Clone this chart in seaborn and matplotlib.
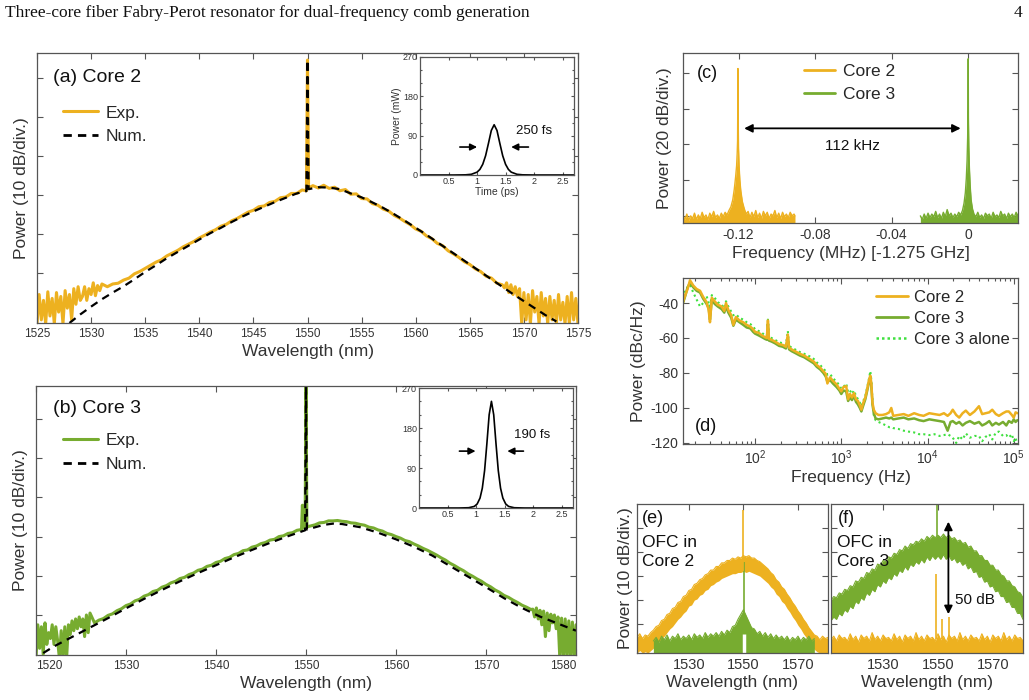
import numpy as np
import matplotlib
matplotlib.use('Agg')
import matplotlib.pyplot as plt
from matplotlib.lines import Line2D
from matplotlib.ticker import LogLocator, LogFormatterMathtext, NullFormatter, MultipleLocator
import seaborn as sns

sns.set_theme(style='ticks')
plt.rcParams['font.family'] = ['Liberation Sans', 'DejaVu Sans']
plt.rcParams['mathtext.fontset'] = 'custom'
plt.rcParams['mathtext.rm'] = 'Liberation Sans'
plt.rcParams['mathtext.it'] = 'Liberation Sans:italic'
plt.rcParams['axes.unicode_minus'] = False

ORANGE = '#EDB120'
GREEN = '#77AC30'
LIME = '#3FE03F'
INK = '#333333'
SPINE = '#555555'

# ---------------- texts ----------------
header_text = 'Three-core fiber Fabry-Perot resonator for dual-frequency comb generation'
page_no = '4'

def grid(a, b, step):
    return np.round(np.arange(a, b + step / 2, step), 3)

# ---------------- (a) Core 2 spectrum ----------------
a_num_wl = list(range(1528, 1550)) + [1549.9, 1550.0, 1550.1] + list(range(1551, 1574))
a_num_db = [-62.8, -60.6, -58.6, -56.7, -55.0, -53.4, -51.6, -49.7, -48.0, -46.2, -44.6,
            -43.0, -41.4, -39.8, -38.4, -36.9, -35.5, -34.2, -33.0, -31.8, -30.7, -29.6,
            -29.0, 4.6, -28.5,
            -28.0, -28.1, -28.5, -29.6, -30.6, -31.9, -33.3, -34.9, -36.6, -38.4, -40.2,
            -42.1, -44.0, -45.9, -47.8, -49.7, -51.6, -53.5, -55.4, -57.2, -59.0, -60.8, -62.4]

a_exp_wl = np.concatenate([grid(1525, 1529, 0.2), grid(1529.2, 1531, 0.2), grid(1531.5, 1549.5, 0.5),
                           [1549.9, 1550.0, 1550.1], grid(1550.5, 1568, 0.5), grid(1568.2, 1575, 0.2)])
a_exp_db = ([-63, -55.5, -62, -57, -63, -54.8, -61, -56.5, -63, -55, -60, -56, -63, -54.5, -59,
             -55.5, -62, -54, -58, -53.5, -57]
            + [-56.0, -53.5, -57.0, -54.0, -55.5, -52.5, -55.8, -53.2, -54.5, -52.8]
            + [-53.5, -52.8, -52.6, -51.8, -51.3, -50.2, -49.6, -48.8, -48.0, -47.2,
               -46.6, -45.6, -44.9, -44.2, -43.3, -42.6, -41.9, -41.0, -40.3, -39.5,
               -38.9, -38.0, -37.5, -36.6, -36.0, -35.2, -34.4, -33.9, -33.0, -32.8,
               -31.9, -31.6, -30.7, -30.5, -29.6, -29.6, -28.7]
            + [-28.9, 4.6, -28.2]
            + [-27.6, -28.2, -27.5, -28.3, -28.0, -28.9, -28.6, -29.8, -29.7, -30.9,
               -31.0, -32.2, -32.6, -33.6, -34.1, -35.2, -35.9, -36.8, -37.6, -38.7,
               -39.3, -40.5, -41.2, -42.4, -43.0, -44.3, -45.1, -46.0, -47.1, -47.8,
               -48.9, -49.6, -50.8, -51.3, -52.6, -53.0]
            + [-53.8, -52.5, -55.0, -53.0, -55.5, -53.5, -56.0, -54.0, -63,
               -55.0, -62, -55.5, -63, -54.5, -60, -56, -63, -55, -61, -56.5, -63, -56, -62,
               -57, -63, -55.5, -62, -57.5, -63, -56, -63, -55, -62, -56.5, -63])

# inset (a): pulse
a_t = [0.0, 0.6, 0.8, 0.9, 1.0, 1.05, 1.1, 1.15, 1.2, 1.25, 1.3, 1.35, 1.4, 1.45, 1.5, 1.55,
       1.6, 1.7, 1.8, 2.0, 2.7]
a_p = [0, 0, 0.4, 1.6, 6.5, 12.8, 24.5, 44.1, 72.3, 101.8, 115, 101.8, 72.3, 44.1, 24.5, 12.8,
       6.5, 1.6, 0.4, 0, 0]

# ---------------- (b) Core 3 spectrum ----------------
b_num_wl = [1520.8, 1522, 1524, 1526, 1528, 1530, 1532, 1534, 1536, 1538, 1540, 1542, 1544, 1546, 1548,
            1549.9, 1550.0, 1550.1,
            1552, 1553, 1554, 1556, 1558, 1560, 1562, 1564, 1566, 1568, 1570, 1572, 1574, 1576, 1578, 1580]
b_num_db = [-59.7, -58.0, -55.6, -53.2, -50.8, -48.3, -45.9, -43.6, -41.4, -39.3, -37.3, -35.3, -33.4, -31.6, -29.9,
            -28.4, 10.0, -28.2,
            -27.0, -26.7, -26.8, -27.6, -29.0, -30.7, -32.6, -34.8, -37.5, -40.2, -42.9, -45.7, -48.2, -50.4, -52.2, -54.0]

b_exp_wl = np.concatenate([grid(1520, 1526, 0.2), grid(1526.5, 1549.5, 0.5),
                           [1549.6, 1549.7, 1549.8, 1549.9, 1550.0, 1550.1, 1550.3],
                           grid(1550.5, 1575, 0.5), grid(1575.2, 1580, 0.2)])
b_exp_db = ([-61, -52.5, -58.5, -53, -60, -52, -57.5, -54.5, -56, -52.5, -57.5, -53, -56.5, -61, -54,
             -61, -53, -61, -52.5, -55, -51.5, -54, -51, -53.5, -50.5, -53, -51, -55.5, -50, -54.5, -49.5]
            + [-52.0, -51.3, -50.9, -50.1, -49.7, -48.9, -48.4, -47.6, -47.2, -46.4,
               -46.0, -45.2, -44.8, -44.0, -43.7, -42.9, -42.5, -41.8, -41.4, -40.7,
               -40.4, -39.7, -39.3, -38.6, -38.3, -37.6, -37.3, -36.6, -36.3, -35.6,
               -35.3, -34.6, -34.3, -33.6, -33.4, -32.7, -32.4, -31.8, -31.5, -30.9,
               -30.7, -30.0, -29.8, -29.2, -29.0, -28.4, -28.2]
            + [-22, -27.5, -22.5, -28, 10, -27.6, -27.4]
            + [-27.3, -27.0, -26.5, -26.4, -26.0, -26.0, -25.9, -26.1, -26.2, -26.5,
               -26.6, -26.9, -27.1, -27.6, -27.8, -28.3, -28.6, -29.2, -29.5, -30.0,
               -30.4, -31.0, -31.3, -31.9, -32.4, -33.0, -33.5, -34.1, -34.7, -35.4,
               -36.0, -36.8, -37.4, -38.1, -38.7, -39.5, -40.1, -40.8, -41.4, -42.2,
               -42.8, -43.6, -44.2, -45.0, -45.5, -46.2, -46.8, -47.5, -48.0, -48.6]
            + [-48.5, -50.5, -48.2, -51.0, -48.8, -52.5, -49.0, -55.5, -49.5, -54.0, -49.8, -52.0,
               -50.0, -53.5, -50.5, -61, -50.8, -61, -51.0, -61, -51.5, -61, -51.8, -61, -52.5])

# inset (b): pulse
b_t = [0.0, 0.7, 0.87, 0.97, 1.02, 1.07, 1.11, 1.15, 1.19, 1.23, 1.27, 1.31, 1.35, 1.39, 1.43,
       1.47, 1.52, 1.57, 1.67, 1.85, 2.7]
b_p = [0, 0, 0.6, 3.6, 9.1, 22.4, 44.6, 84.2, 144.7, 209.8, 240, 209.8, 144.7, 84.2, 44.6,
       22.4, 9.1, 3.6, 0.6, 0, 0]

# ---------------- (c) RF beat notes ----------------
c_core2_f = [-0.1490, -0.1480, -0.1470, -0.1460, -0.1450, -0.1440, -0.1430, -0.1420, -0.1410, -0.1400,
             -0.1390, -0.1380, -0.1370, -0.1360, -0.1350, -0.1340, -0.1330, -0.1320, -0.1310, -0.1300,
             -0.1290, -0.1280, -0.1270, -0.1260, -0.1250, -0.1240, -0.1230, -0.1222, -0.1215, -0.1210,
             -0.1207, -0.1205, -0.1204, -0.1203, -0.1202, -0.1200, -0.1197, -0.1193, -0.1188, -0.1180,
             -0.1170, -0.1160, -0.1150, -0.1140, -0.1130, -0.1120, -0.1110, -0.1100, -0.1090, -0.1080,
             -0.1070, -0.1060, -0.1050, -0.1040, -0.1030, -0.1020, -0.1010, -0.1000, -0.0990, -0.0980,
             -0.0970, -0.0960, -0.0950, -0.0940, -0.0930, -0.0920, -0.0910, -0.0905]
c_core2_db = [-80, -82, -79, -82.5, -80, -81.5, -78.5, -82, -79.5, -81.5,
              -78, -81, -79.5, -82, -78.5, -80.5, -77.5, -81, -79.5, -81.5,
              -78.5, -80.5, -78, -79.5, -77, -75, -71, -65, -58, -52,
              -45, -38, -20, 2.5, -22, -42, -52, -60, -66, -72,
              -76, -79, -77.5, -81, -78, -80.5, -77, -81, -78.5, -81.5,
              -77.5, -80, -78, -81.5, -79, -80, -77, -81, -78.5, -81.5,
              -78, -80.5, -79, -81, -78, -80, -79, -80]
c_core3_f = [-0.0250, -0.0240, -0.0230, -0.0220, -0.0210, -0.0200, -0.0190, -0.0180, -0.0170, -0.0160,
             -0.0150, -0.0140, -0.0130, -0.0120, -0.0110, -0.0100, -0.0090, -0.0080, -0.0070, -0.0060,
             -0.0050, -0.0040, -0.0030, -0.0022, -0.0015, -0.0010, -0.0006, -0.0003, -0.0001, 0.0000,
             0.0001, 0.0003, 0.0006, 0.0010, 0.0015, 0.0022, 0.0030, 0.0040, 0.0050, 0.0060,
             0.0070, 0.0080, 0.0090, 0.0100, 0.0110, 0.0120, 0.0130, 0.0140, 0.0150, 0.0160,
             0.0170, 0.0180, 0.0190, 0.0200, 0.0210, 0.0220, 0.0230, 0.0240, 0.0250, 0.0260]
c_core3_db = [-80, -82, -79, -81.5, -78.5, -81, -79, -80.5, -77.5, -81,
              -79, -81.5, -78, -80.5, -76.5, -80, -78.5, -81, -79, -80.5,
              -78, -79.5, -77, -73, -67, -59, -49, -36, -20, 8,
              -25, -41, -53, -63, -71, -76, -79, -80.5, -78, -81,
              -79.5, -81.5, -78.5, -80, -79, -81.5, -78, -80.5, -79.5, -81,
              -77.5, -80, -79, -81.5, -78.5, -80.5, -79, -81, -78, -80]
c_arrow = (-0.1185, -0.0025, -31)
c_split_label = '112 kHz'

# ---------------- (d) phase noise ----------------
d_freq = [14.6, 15.5, 16.5, 17.6, 19.2, 21, 23, 25, 27.4, 29,
          30, 31.5, 34, 37, 41, 44, 46, 49, 53, 56,
          60, 66, 73, 80, 88, 95, 100, 110, 120, 130,
          137, 141, 145, 155, 170, 190, 210, 228, 240, 248,
          265, 290, 330, 370, 430, 480, 520, 570, 620, 660,
          690, 740, 800, 880, 950, 1000, 1060, 1140, 1200, 1260,
          1330, 1400, 1480, 1560, 1640, 1710, 1800, 1900, 2000, 2100,
          2170, 2230, 2300, 2380, 2500, 2700, 3000, 3300, 3600, 3800,
          4000, 4600, 5300, 6000, 7000, 8000, 9000, 10500, 12000, 13800,
          15500, 17100, 18500, 19600, 21500, 23300, 25500, 27800, 31000, 35000,
          39500, 43000, 47200, 52000, 56300, 62000, 67300, 75000, 82000, 87600,
          95000, 100000, 105000, 110000]
d_core2 = [-39.5, -35.5, -32, -27, -30, -32, -33, -36.5, -39.5, -44,
           -51, -37, -39, -41, -42, -44.5, -40, -44, -47, -52.5,
           -48, -50, -51, -52.5, -53.5, -55, -56.5, -57, -58.5, -59.5,
           -60, -50, -60.5, -61, -62, -63.5, -64, -65, -58, -65.5,
           -66.5, -67.5, -69, -70, -72, -73.5, -75.5, -77, -79, -80.5,
           -86, -82.5, -84.5, -86.5, -89, -90.5, -88, -87.5, -95, -92,
           -94, -91.5, -95, -96, -98.5, -101, -97, -94, -89, -84,
           -81.5, -86, -97, -101, -103, -104, -104, -103.5, -102.5, -100,
           -104.5, -104, -103.5, -104.5, -103, -104, -104.5, -103, -103.5, -104,
           -103, -104.5, -103, -101, -104, -105.5, -103, -101.5, -104, -102,
           -99, -103.5, -103, -102.5, -101, -103.5, -104.5, -103, -102, -102,
           -104, -105.5, -102.5, -103]
d_core3 = [-40, -36, -31, -28.5, -31, -33, -34, -37.5, -40.5, -43,
           -49.5, -38, -40.5, -42, -43.5, -45.5, -42, -45.5, -48.5, -53,
           -49.5, -51, -52.5, -54, -54.5, -56.5, -57.5, -58.5, -59.5, -60.5,
           -61, -52, -61.5, -62, -63, -64.5, -65, -66, -60, -66.5,
           -67.5, -68.5, -70, -71, -73, -74.5, -76.5, -78, -80, -82,
           -85, -84, -86, -88, -90, -92, -90, -90.5, -96, -94,
           -95.5, -93, -96.5, -98, -100, -102, -98.5, -95, -90, -85,
           -82, -87.5, -98, -103, -106, -106.5, -106, -105.5, -106, -105.5,
           -106.5, -106, -105.5, -106.5, -106, -107, -107.5, -106.5, -107, -107.5,
           -108, -113, -108, -107.5, -109, -108, -110, -108.5, -107.5, -109,
           -108, -110, -109, -107.5, -110, -108.5, -109.5, -108, -110, -107.5,
           -108.5, -106.5, -108, -107]
d_core3_alone = [-37, -33, -31, -29.5, -34, -38, -42, -40, -36, -40,
                 -42, -35.5, -37, -39.5, -41, -43, -39, -42, -45, -47,
                 -46.5, -48.5, -49.5, -51, -52, -53.5, -55, -56, -57, -58.5,
                 -59, -49.5, -59.5, -60, -61, -62.5, -63, -64, -56, -64.5,
                 -65.5, -66.5, -68, -69, -70.5, -72, -74, -75.5, -77.5, -79,
                 -81, -80.5, -83, -85, -87, -89, -88, -86, -91, -90,
                 -92, -90, -93, -95, -97, -99, -96, -93, -88, -83,
                 -79, -84, -96, -104, -107, -108, -109, -110, -111, -111,
                 -111.5, -112, -113, -113.5, -114, -115, -115, -115.5, -115, -116,
                 -115.5, -115, -116, -117, -120, -116, -118, -114.5, -117, -116,
                 -116, -119, -116.5, -115, -118, -114, -113.5, -116, -115.5, -117,
                 -115, -119, -117, -121]

# ---------------- (e), (f) OFC spectra ----------------
ef_wl = list(range(1511, 1582))
e_core2_top = [-55.5, -54.0, -56.0, -54.5, -55.0, -53.5, -52.5, -51.0, -50.5, -48.5,
               -48.0, -46.0, -45.5, -43.5, -43.0, -41.0, -40.5, -38.5, -38.0, -36.0,
               -35.5, -33.5, -33.0, -31.5, -31.0, -29.5, -29.0, -27.5, -27.5, -26.0,
               -26.0, -24.5, -24.5, -23.5, -23.5, -22.5, -23.0, -22.0, -22.5, -21.5,
               -22.0, -21.5, -22.5, -22.5, -23.5, -24.0, -25.0, -26.0, -27.0, -28.5,
               -29.5, -31.5, -32.5, -34.5, -35.5, -37.5, -39.0, -41.0, -42.5, -44.5,
               -46.0, -48.0, -49.5, -51.5, -53.0, -54.5, -55.0, -56.5, -55.0, -56.0, -55.5]
e_core2_bot = [-62, -61, -62, -61.5, -62, -61, -60, -58.5, -57.5, -56,
               -55, -53.5, -52, -51, -49.5, -48, -47, -45.5, -44.5, -42.5,
               -42, -40, -39.5, -38, -37.5, -36, -35.5, -34, -33.5, -32.5,
               -32, -31, -30.5, -30, -29.5, -29, -29, -28.5, -28.5, -28,
               -28.5, -28, -28.5, -29, -29.5, -30, -31, -32, -33, -34.5,
               -35.5, -37.5, -38.5, -40.5, -41.5, -43.5, -45, -47, -48.5, -50.5,
               -52, -54, -55.5, -57.5, -59, -60.5, -61.5, -62, -62, -62, -62]
e_core3_wl = list(range(1517, 1577))
e_core3_top = [-57, -55.5, -57.5, -55, -56.5, -54.5, -57, -55, -56, -54,
               -56.5, -55, -56, -54.5, -56.5, -54, -55.5, -54.5, -56, -53.5,
               -55.5, -54, -55, -53.5, -55, -53, -54.5, -52.5, -53.5, -51,
               -50.5, -48, -46, -44, -46.5, -49, -51.5, -52, -54, -53,
               -55, -53.5, -55.5, -54, -56, -54.5, -56, -55, -56.5, -55,
               -57, -55.5, -56.5, -55, -57, -55.5, -56.5, -55, -57, -56]
e_spike_wl = [1550.0, 1550.2]          # Core 2 spike, Core 3 spike
e_spike_top = [-2.5, -24]
e_notch = (1550.2, -54)

f_core3_top = [-40.0, -38.5, -39.0, -37.0, -37.5, -35.5, -36.0, -34.0, -34.5, -32.0,
               -32.5, -30.5, -31.0, -28.5, -29.0, -27.0, -27.5, -25.0, -25.5, -23.5,
               -24.0, -22.0, -22.5, -20.5, -21.0, -19.0, -19.5, -17.5, -18.5, -16.5,
               -17.0, -15.5, -16.0, -14.5, -15.5, -13.5, -14.5, -13.0, -14.0, -13.0,
               -14.0, -12.5, -14.0, -13.0, -14.5, -14.0, -15.5, -15.0, -16.5, -16.0,
               -18.0, -17.5, -19.5, -19.5, -21.5, -21.5, -23.5, -23.5, -25.5, -25.5,
               -27.5, -27.5, -29.5, -30.0, -32.0, -32.0, -34.0, -34.5, -36.5, -37.0, -39.0]
f_core3_bot = [-48.5, -47.0, -48.0, -45.5, -46.5, -44.0, -45.0, -42.5, -43.5, -40.5,
               -41.5, -39.0, -40.0, -37.0, -38.0, -35.5, -36.5, -33.5, -34.5, -32.0,
               -33.0, -30.5, -31.5, -29.0, -30.0, -27.5, -28.5, -26.0, -27.5, -25.0,
               -26.0, -24.0, -25.0, -23.0, -24.5, -22.0, -23.5, -21.5, -23.0, -21.5,
               -23.0, -21.0, -23.0, -21.5, -23.5, -22.5, -24.5, -23.5, -25.5, -24.5,
               -27.0, -26.0, -28.5, -28.0, -30.5, -30.0, -32.5, -32.0, -34.5, -34.0,
               -36.5, -36.0, -38.5, -38.5, -41.0, -40.5, -43.0, -43.0, -45.5, -45.5, -48.0]
f_core2_top = [-56.5, -55, -57, -54.5, -56, -55.5, -57, -54, -56.5, -55,
               -57.5, -54.5, -56, -55, -57, -53.5, -56.5, -55, -57, -54.5,
               -56, -55.5, -57, -54, -56.5, -55, -57.5, -54.5, -56, -55,
               -57, -53.5, -56.5, -55, -57, -54.5, -56, -55.5, -57, -54,
               -56.5, -55, -57.5, -54.5, -56, -55, -57, -53.5, -56.5, -55,
               -57, -54.5, -56, -55.5, -57, -54, -56.5, -55, -57.5, -54.5,
               -56, -55, -57, -53.5, -56.5, -55, -57, -54.5, -56, -55.5, -57]
f_spike_c3 = (1549.6, 2.0)
f_spikes_c2_wl = [1549.3, 1551.5, 1554.0]
f_spikes_c2_top = [-29, -48, -47]
f_arrow = (1553.8, -6.2, -47)
f_arrow_label = '50 dB'

# ---------------- figure layout ----------------
W, H = 1029, 700
fig = plt.figure(figsize=(W / 100, H / 100), dpi=100)


def box(x0, y0, x1, y1):
    return [x0 / W, 1 - y1 / H, (x1 - x0) / W, (y1 - y0) / H]


def style(ax, fs=8, length=4):
    for s in ax.spines.values():
        s.set_visible(True)
        s.set_color(SPINE)
        s.set_linewidth(0.9)
    ax.tick_params(which='both', direction='in', top=True, right=True, labelsize=fs,
                   color=SPINE, labelcolor=INK, width=0.8)
    ax.tick_params(which='major', length=length)
    ax.tick_params(which='minor', length=length * 0.55)


def lp(ax, x, y, **kw):
    sns.lineplot(x=np.asarray(x, float), y=np.asarray(y, float), ax=ax, sort=False,
                 estimator=None, legend=False, **kw)


fig.text(5 / W, 1 - 13 / H, header_text, family='Liberation Serif', fontsize=12.5,
         va='center', ha='left', color='#111111')
fig.text(1022 / W, 1 - 13 / H, page_no, family='Liberation Serif', fontsize=12.5,
         va='center', ha='right', color='#111111')

# ===== (a) =====
ax = fig.add_axes(box(37, 53, 578, 323))
lp(ax, a_exp_wl, a_exp_db, color=ORANGE, lw=2.2)
lp(ax, a_num_wl, a_num_db, color='black', lw=1.6, linestyle=(0, (3.5, 2.6)))
ax.set_xlim(1525, 1575)
ax.set_ylim(-62.8, 6.4)
ax.set_xticks([1525, 1530, 1535, 1540, 1545, 1550, 1555, 1560, 1565, 1570, 1575])
ax.set_yticks([0, -10, -20, -30, -40, -50, -60])
style(ax, fs=8.5)
ax.tick_params(labelleft=False)
ax.set_xlabel('Wavelength (nm)', fontsize=12.5, color=INK, labelpad=3)
ax.set_ylabel('Power (10 dB/div.)', fontsize=12.5, color=INK, labelpad=6)
ax.text(0.03, 0.911, '(a) Core 2', transform=ax.transAxes, fontsize=14, va='center', color='#111')
h = [Line2D([], [], color=ORANGE, lw=2.2), Line2D([], [], color='black', lw=2, ls=(0, (3, 2.2)))]
ax.legend(h, ['Exp.', 'Num.'], loc='upper left', bbox_to_anchor=(0.048, 0.806), frameon=False,
          fontsize=12.5, handlelength=2.0, handletextpad=0.45, labelspacing=0.5,
          borderpad=0, borderaxespad=0)

# inset (a)
axi = fig.add_axes(box(420, 57, 574, 175))
lp(axi, a_t, a_p, color='black', lw=1.2)
axi.set_xlim(0, 2.7)
axi.set_ylim(0, 270)
axi.set_xticks([0.5, 1, 1.5, 2, 2.5])
axi.set_xticklabels(['0.5', '1', '1.5', '2', '2.5'])
axi.set_yticks([0, 90, 180, 270])
axi.yaxis.set_minor_locator(MultipleLocator(30))
style(axi, fs=6.5, length=2.5)
axi.tick_params(pad=1.5)
axi.set_xlabel('Time (ps)', fontsize=7.5, color=INK, labelpad=1)
axi.set_ylabel('Power (mW)', fontsize=7.5, color=INK, labelpad=1)
axi.annotate('', xy=(1.05, 64), xytext=(0.65, 64),
             arrowprops=dict(arrowstyle='-|>', color='black', lw=1.2, mutation_scale=10))
axi.annotate('', xy=(1.55, 64), xytext=(1.95, 64),
             arrowprops=dict(arrowstyle='-|>', color='black', lw=1.2, mutation_scale=10))
axi.text(1.68, 101, '250 fs', fontsize=9.5, va='center', ha='left', color='#111')

# ===== (b) =====
ax = fig.add_axes(box(36, 386, 576, 655))
lp(ax, b_exp_wl, b_exp_db, color=GREEN, lw=2.2)
lp(ax, b_num_wl, b_num_db, color='black', lw=1.6, linestyle=(0, (3.5, 2.6)))
ax.set_xlim(1520, 1580)
ax.set_ylim(-60.2, 8.4)
ax.set_xticks([1520, 1530, 1540, 1550, 1560, 1570, 1580])
ax.set_yticks([0, -10, -20, -30, -40, -50])
style(ax, fs=8.5)
ax.tick_params(labelleft=False)
tl = ax.get_xticklabels()
tl[0].set_ha('left')
tl[-1].set_ha('right')
ax.set_xlabel('Wavelength (nm)', fontsize=12.5, color=INK, labelpad=3)
ax.set_ylabel('Power (10 dB/div.)', fontsize=12.5, color=INK, labelpad=6)
ax.text(0.031, 0.918, '(b) Core 3', transform=ax.transAxes, fontsize=14, va='center', color='#111')
h = [Line2D([], [], color=GREEN, lw=2.2), Line2D([], [], color='black', lw=2, ls=(0, (3, 2.2)))]
ax.legend(h, ['Exp.', 'Num.'], loc='upper left', bbox_to_anchor=(0.05, 0.825), frameon=False,
          fontsize=12.5, handlelength=2.0, handletextpad=0.45, labelspacing=0.5,
          borderpad=0, borderaxespad=0)

# inset (b)
axi = fig.add_axes(box(419, 388, 573, 508))
lp(axi, b_t, b_p, color='black', lw=1.2)
axi.set_xlim(0, 2.7)
axi.set_ylim(0, 270)
axi.set_xticks([0.5, 1, 1.5, 2, 2.5])
axi.set_xticklabels(['0.5', '1', '1.5', '2', '2.5'])
axi.set_yticks([0, 90, 180, 270])
axi.yaxis.set_minor_locator(MultipleLocator(30))
style(axi, fs=6.5, length=2.5)
axi.tick_params(pad=1.5)
axi.annotate('', xy=(1.04, 128), xytext=(0.66, 128),
             arrowprops=dict(arrowstyle='-|>', color='black', lw=1.2, mutation_scale=10))
axi.annotate('', xy=(1.5, 128), xytext=(1.88, 128),
             arrowprops=dict(arrowstyle='-|>', color='black', lw=1.2, mutation_scale=10))
axi.text(1.66, 164, '190 fs', fontsize=9.5, va='center', ha='left', color='#111')

# ===== (c) =====
ax = fig.add_axes(box(683, 53, 1018, 223))
ax.fill_between(c_core2_f, c_core2_db, -95, color=ORANGE, lw=0)
lp(ax, c_core2_f, c_core2_db, color=ORANGE, lw=1.0)
ax.fill_between(c_core3_f, c_core3_db, -95, color=GREEN, lw=0)
lp(ax, c_core3_f, c_core3_db, color=GREEN, lw=1.0)
ax.set_xlim(-0.149, 0.026)
ax.set_ylim(-84, 11.2)
ax.set_xticks([-0.12, -0.08, -0.04, 0])
ax.set_xticklabels(['-0.12', '-0.08', '-0.04', '0'])
ax.set_yticks([0, -20, -40, -60, -80])
style(ax, fs=10)
ax.tick_params(labelleft=False)
ax.set_xlabel('Frequency (MHz) [-1.275 GHz]', fontsize=12.5, color=INK, labelpad=3)
ax.set_ylabel('Power (20 dB/div.)', fontsize=12.5, color=INK, labelpad=8)
ax.text(0.042, 0.882, '(c)', transform=ax.transAxes, fontsize=13, va='center', color='#111')
ax.annotate('', xy=(c_arrow[0], c_arrow[2]), xytext=(c_arrow[1], c_arrow[2]),
            arrowprops=dict(arrowstyle='<|-|>', color='black', lw=1.3, mutation_scale=12))
ax.text((c_arrow[0] + c_arrow[1]) / 2, -41, c_split_label, fontsize=11, ha='center',
        va='center', color='#111')
h = [Line2D([], [], color=ORANGE, lw=2), Line2D([], [], color=GREEN, lw=2)]
ax.legend(h, ['Core 2', 'Core 3'], loc='upper left', bbox_to_anchor=(0.361, 0.935), frameon=False,
          fontsize=12.5, handlelength=1.8, handletextpad=0.45, labelspacing=0.45,
          borderpad=0, borderaxespad=0)

# ===== (d) =====
ax = fig.add_axes(box(683, 278, 1018, 444))
lp(ax, d_freq, d_core3_alone, color=LIME, lw=1.5, linestyle=(0, (1, 1.5)))
lp(ax, d_freq, d_core3, color=GREEN, lw=1.8)
lp(ax, d_freq, d_core2, color=ORANGE, lw=1.8)
ax.set_xscale('log')
ax.set_xlim(14.6, 1.12e5)
ax.set_ylim(-120.6, -25.7)
ax.set_yticks([-40, -60, -80, -100, -120])
ax.xaxis.set_major_locator(LogLocator(base=10, numticks=10))
ax.xaxis.set_major_formatter(LogFormatterMathtext())
ax.xaxis.set_minor_locator(LogLocator(base=10, subs=np.arange(2, 10), numticks=20))
ax.xaxis.set_minor_formatter(NullFormatter())
style(ax, fs=10)
ax.set_xlabel('Frequency (Hz)', fontsize=12.5, color=INK, labelpad=2)
ax.set_ylabel('Power (dBc/Hz)', fontsize=12.5, color=INK, labelpad=3)
ax.text(0.036, 0.108, '(d)', transform=ax.transAxes, fontsize=13, va='center', color='#111')
h = [Line2D([], [], color=ORANGE, lw=2), Line2D([], [], color=GREEN, lw=2),
     Line2D([], [], color=LIME, lw=1.8, ls=(0, (1, 1.2)))]
ax.legend(h, ['Core 2', 'Core 3', 'Core 3 alone'], loc='upper left', bbox_to_anchor=(0.576, 0.93),
          frameon=False, fontsize=12, handlelength=1.9, handletextpad=0.4, labelspacing=0.38,
          borderpad=0, borderaxespad=0)

# ===== (e) =====
ax = fig.add_axes(box(637, 504, 828, 653))
ax.fill_between(ef_wl, e_core2_bot, e_core2_top, color=ORANGE, lw=0)
lp(ax, ef_wl, e_core2_top, color=ORANGE, lw=0.8)
ax.fill_between(e_core3_wl, e_core3_top, -63, color=GREEN, lw=0)
lp(ax, e_core3_wl, e_core3_top, color=GREEN, lw=0.8)
ax.vlines([e_notch[0]], -63, e_notch[1], color='white', lw=2.5)
ax.vlines([e_spike_wl[1]], -46, e_spike_top[1], color=GREEN, lw=1.2)
ax.vlines([e_spike_wl[0]], -28, e_spike_top[0], color=ORANGE, lw=1.2)
ax.set_xlim(1511, 1581)
ax.set_ylim(-62, 0)
ax.set_xticks([1530, 1550, 1570])
ax.set_yticks([-10, -20, -30, -40, -50, -60])
style(ax, fs=10.5)
ax.tick_params(labelleft=False)
ax.set_xlabel('Wavelength (nm)', fontsize=12.5, color=INK, labelpad=2)
ax.set_ylabel('Power (10 dB/div.)', fontsize=12.5, color=INK, labelpad=3)
ax.text(0.026, 0.9, '(e)', transform=ax.transAxes, fontsize=13, va='center', color='#111')
ax.text(0.026, 0.79, 'OFC in\nCore 2', transform=ax.transAxes, fontsize=12.5, va='top',
        color='#111', linespacing=1.35)

# ===== (f) =====
ax = fig.add_axes(box(831, 504, 1023, 653))
ax.fill_between(ef_wl, f_core2_top, -63, color=ORANGE, lw=0)
lp(ax, ef_wl, f_core2_top, color=ORANGE, lw=0.8)
ax.vlines(f_spikes_c2_wl, -56, f_spikes_c2_top, color=ORANGE, lw=1.2)
ax.fill_between(ef_wl, f_core3_bot, f_core3_top, color=GREEN, lw=0)
lp(ax, ef_wl, f_core3_top, color=GREEN, lw=0.8)
lp(ax, ef_wl, f_core3_bot, color=GREEN, lw=0.8)
ax.vlines([f_spike_c3[0]], -14, f_spike_c3[1], color=GREEN, lw=1.2)
ax.annotate('', xy=(f_arrow[0], f_arrow[1]), xytext=(f_arrow[0], f_arrow[2]),
            arrowprops=dict(arrowstyle='<|-|>', color='black', lw=1.3, mutation_scale=12))
ax.text(f_arrow[0] + 2.4, -40, f_arrow_label, fontsize=11, va='center', ha='left', color='#111')
ax.set_xlim(1511, 1581)
ax.set_ylim(-62, 0)
ax.set_xticks([1530, 1550, 1570])
ax.set_yticks([-10, -20, -30, -40, -50, -60])
style(ax, fs=10.5)
ax.tick_params(labelleft=False)
ax.set_xlabel('Wavelength (nm)', fontsize=12.5, color=INK, labelpad=2)
ax.text(0.036, 0.9, '(f)', transform=ax.transAxes, fontsize=13, va='center', color='#111')
ax.text(0.03, 0.79, 'OFC in\nCore 3', transform=ax.transAxes, fontsize=12.5, va='top',
        color='#111', linespacing=1.35)

fig.savefig('out.png', dpi=100)
